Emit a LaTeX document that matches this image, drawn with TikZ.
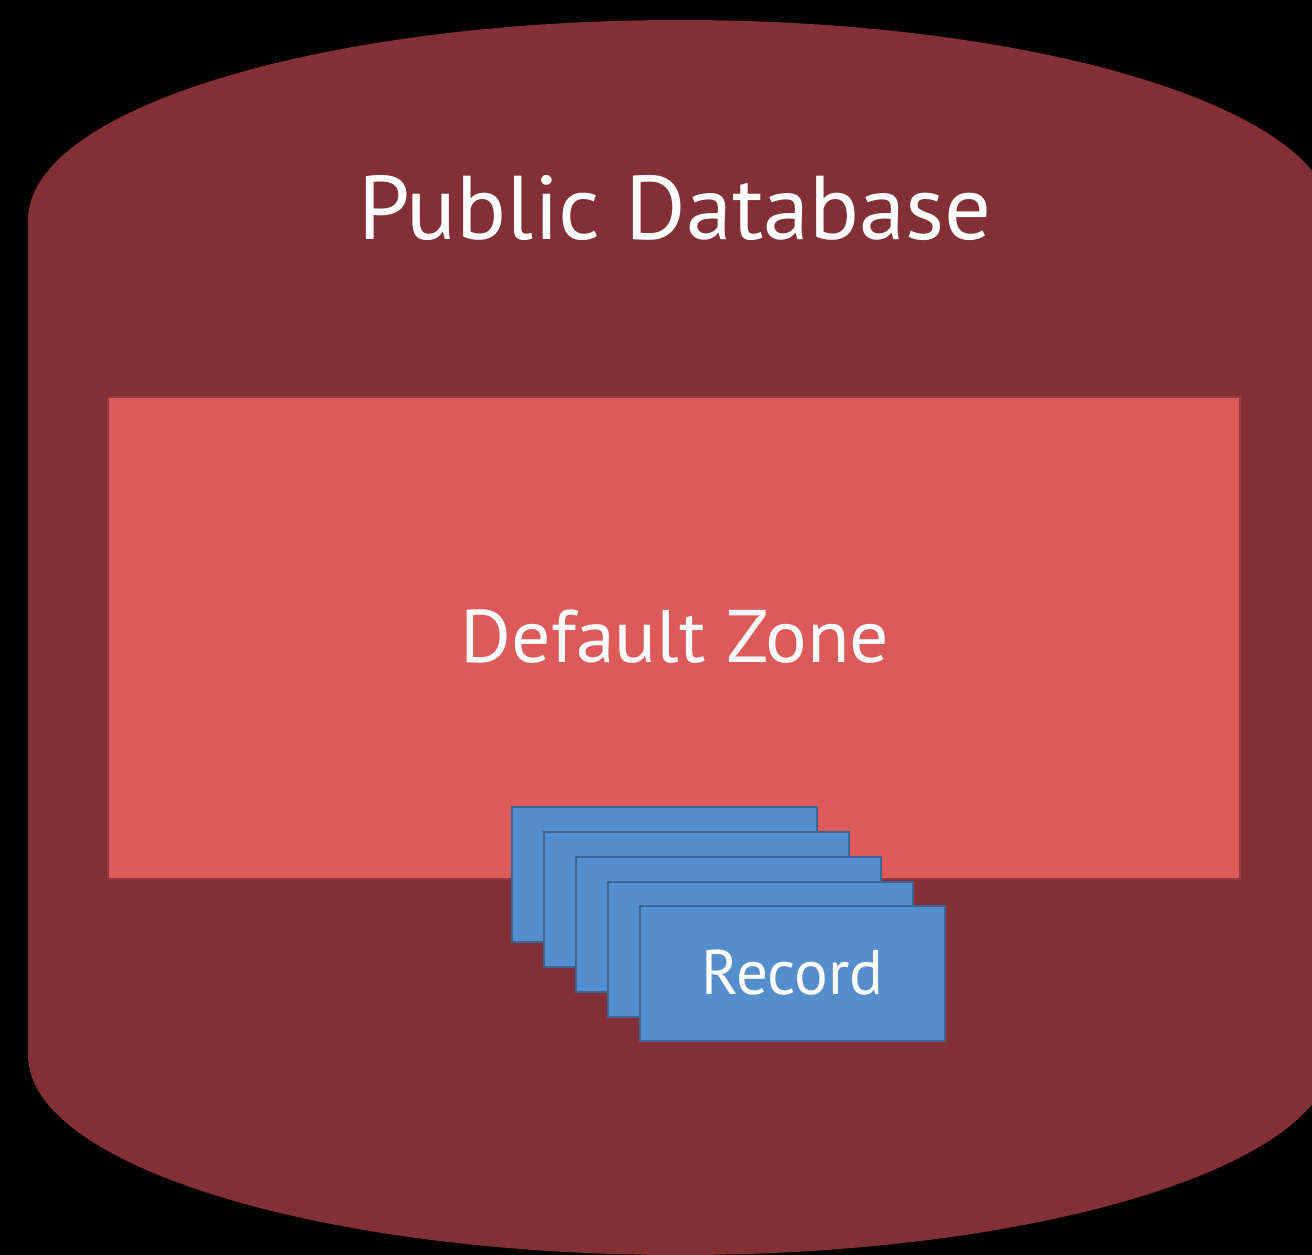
\documentclass[tikz,border=0pt]{standalone}
\usepackage{fontspec}
\setmainfont{PT Sans}
\definecolor{dbred}{HTML}{822F35}
\definecolor{zonefill}{HTML}{DC5B5A}
\definecolor{zoneline}{HTML}{93383B}
\definecolor{recfill}{HTML}{548ECD}
\definecolor{recline}{HTML}{3A6694}
\tikzset{
  zonebox/.style={draw=zoneline, line width=1.5pt, fill=zonefill, minimum width=1132pt, minimum height=482pt, inner sep=0pt},
  recbox/.style={draw=recline, line width=2pt, fill=recfill, minimum width=305pt, minimum height=135pt, inner sep=0pt},
  lbl/.style={text=white, inner sep=0pt, anchor=base}
}
\begin{document}
\begin{tikzpicture}[x=1pt,y=-1pt]
\useasboundingbox (0,0) rectangle (1312,1255);
\fill[black] (0,0) rectangle (1312,1255);
\clip (0,0) rectangle (1312,1255);
% cylinder
\fill[dbred] (28,1055) -- (28,220) arc[start angle=180, end angle=360, x radius=652, y radius=200]
  -- (1332,1055) arc[start angle=0, end angle=180, x radius=652, y radius=200] -- cycle;
\node[lbl, font=\addfontfeatures{FakeStretch=1.025}\fontsize{90.5}{100}\selectfont] (title) at (675,239) {Public Database};
% zone
\node[zonebox] (zone) at (674,638) {};
\node[lbl, font=\addfontfeatures{FakeStretch=1.045}\fontsize{74.5}{80}\selectfont] (zonelbl) at (675,662) {Default Zone};
% records
\node[recbox] (r1) at (664.5,874.5) {};
\node[recbox] (r2) at (696.5,899.5) {};
\node[recbox] (r3) at (728.5,924.5) {};
\node[recbox] (r4) at (760.5,949.5) {};
\node[recbox] (r5) at (792.5,973.5) {};
\node[lbl, font=\fontsize{63}{70}\selectfont] (reclbl) at (792.5,994) {Record};
\end{tikzpicture}
\end{document}
